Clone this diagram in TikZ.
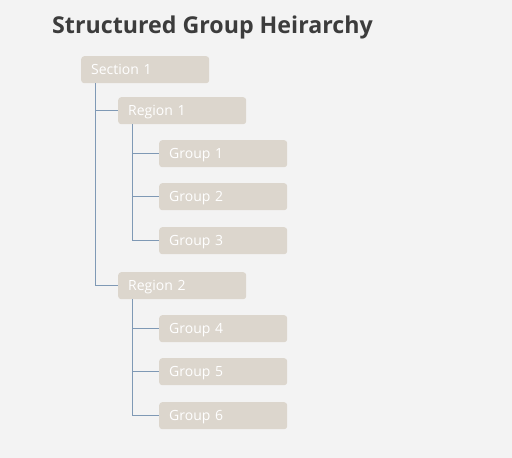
\documentclass[tikz,border=0pt]{standalone}
\usepackage{fontspec}
\setmainfont{Open Sans}
\usepackage{xcolor}
\usepackage{tikz}
\usetikzlibrary{positioning}

\definecolor{bggray}{HTML}{F3F3F3}
\definecolor{boxfill}{HTML}{DCD6CD}
\definecolor{linkblue}{HTML}{7F99B5}
\definecolor{titlegray}{HTML}{3C3C3C}

\tikzset{
	itembox/.style={fill=boxfill, rounded corners=3pt, minimum width=128pt, minimum height=27pt,
		anchor=north west, inner xsep=10pt, text=white, font=\fontsize{14}{16}\selectfont, align=left,
		text width=108pt, text height=10.5pt, text depth=0pt},
	link/.style={draw=linkblue, line width=0.8pt}
}

\begin{document}
\begin{tikzpicture}[x=1pt, y=-1pt]
			\fill[bggray] (0,0) rectangle (512,458);
			\useasboundingbox (0,0) rectangle (512,458);

			\node[anchor=base west, text=titlegray, font=\fontsize{23.2}{28}\selectfont\bfseries, inner sep=0pt] (title) at (52,33) {Structured Group Heirarchy};

			% Boxen
			\node[itembox] (sec1) at (81,56) {Section 1};
			\node[itembox] (reg1) at (118,97) {Region 1};
			\node[itembox] (reg2) at (118,272) {Region 2};
			\foreach \name/\y/\title in {
				grp1/140/{Group 1},
				grp2/183/{Group 2},
				grp3/227/{Group 3},
				grp4/315/{Group 4},
				grp5/358/{Group 5},
				grp6/402/{Group 6}
			}{
				\node[itembox] (\name) at (159,\y) {\title};
			}

			% Linien
			\foreach \child in {reg1, reg2}{
				\draw[link] ([xshift=14pt]sec1.south west) |- (\child.west);
			}
			\foreach \child in {grp1, grp2, grp3}{
				\draw[link] ([xshift=14pt]reg1.south west) |- (\child.west);
			}
			\foreach \child in {grp4, grp5, grp6}{
				\draw[link] ([xshift=14pt]reg2.south west) |- (\child.west);
			}
		\end{tikzpicture}
\end{document}
